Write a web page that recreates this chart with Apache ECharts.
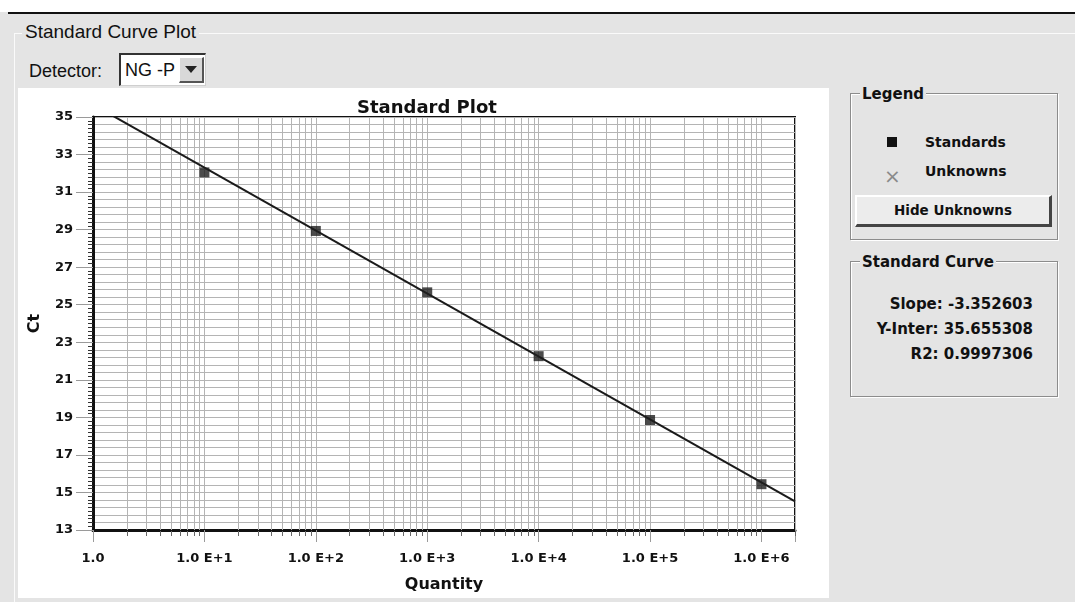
<!DOCTYPE html>
<html>
<head>
<meta charset="utf-8">
<script src="https://cdn.jsdelivr.net/npm/echarts@6/dist/echarts.min.js"></script>
<style>
  html, body { margin:0; padding:0; width:1075px; height:602px; overflow:hidden; background:#e4e4e4; }
  .abs { position:absolute; }
  .ui { font-family:"Liberation Sans", Arial, sans-serif; color:#111; }
  .b { font-family:"DejaVu Sans", Verdana, sans-serif; font-weight:bold; color:#111; }
  .frame { border:1px solid #8c8c8c; box-shadow: 1px 1px 0 #fff, inset 1px 1px 0 #fff; }
  #chart { position:absolute; left:0; top:0; width:1075px; height:602px; }
</style>
</head>
<body>
<div class="abs" style="left:0;top:0;width:1075px;height:12px;background:#fff"></div>
<div class="abs" style="left:8px;top:12px;width:1067px;height:2px;background:#111"></div>
<div class="abs" style="left:14px;top:33px;width:1061px;height:569px;border-left:1px solid #fafafa;border-top:1px solid #fafafa"></div>
<div class="abs ui" style="left:22px;top:21px;font-size:19px;background:#e4e4e4;padding:0 3px;line-height:22px">Standard Curve Plot</div>
<div class="abs ui" style="left:29px;top:60px;font-size:18px;line-height:22px">Detector:</div>
<div class="abs" style="left:119px;top:53px;width:84px;height:30px;background:#fff;border-top:2px solid #333;border-left:2px solid #333;border-right:1px solid #cfcfcf;border-bottom:1px solid #cfcfcf">
  <div class="abs ui" style="left:4px;top:4px;font-size:18px;line-height:22px">NG -P</div>
  <div class="abs" style="left:58px;top:2px;width:22px;height:23px;background:#d8d8d8;border-top:1px solid #fff;border-left:1px solid #fff;border-right:2px solid #555;border-bottom:2px solid #555">
    <div class="abs" style="left:5px;top:8px;width:0;height:0;border-left:6px solid transparent;border-right:6px solid transparent;border-top:7px solid #222"></div>
  </div>
</div>
<div class="abs" style="left:18px;top:88px;width:811px;height:510px;background:#fff"></div>

<div class="abs frame" style="left:850px;top:93px;width:206px;height:145px"></div>
<div class="abs b" style="left:860px;top:85px;font-size:15px;line-height:18px;background:#e4e4e4;padding:0 2px">Legend</div>
<div class="abs" style="left:887px;top:137px;width:10px;height:10px;background:#111"></div>
<div class="abs b" style="left:925px;top:133px;font-size:14px;line-height:18px">Standards</div>
<div class="abs" style="left:884px;top:165px;font-family:'DejaVu Sans',sans-serif;font-size:20px;line-height:22px;color:#8a8a8a">×</div>
<div class="abs b" style="left:925px;top:162px;font-size:14px;line-height:18px">Unknowns</div>
<div class="abs b" style="left:855px;top:195px;width:192px;height:27px;background:#ececec;border-top:2px solid #fff;border-left:2px solid #fff;border-bottom:3px solid #444;border-right:3px solid #444;font-size:13.5px;line-height:27px;text-align:center">Hide Unknowns</div>

<div class="abs frame" style="left:850px;top:261px;width:206px;height:134px"></div>
<div class="abs b" style="left:860px;top:253px;font-size:15px;line-height:18px;background:#e4e4e4;padding:0 2px">Standard Curve</div>
<div class="abs b" style="left:850px;top:292px;width:183px;text-align:right;font-size:15px;line-height:25px">
  <div id="slopeTxt"></div><div id="interTxt"></div><div id="r2Txt"></div>
</div>

<div id="chart"></div>
<script>
// ---- data ----
const standardsQty = [10, 100, 1000, 10000, 100000, 1000000];
const standardsCt  = [32.05, 28.93, 25.66, 22.26, 18.86, 15.44];
const unknownsQty  = [];
const unknownsCt   = [];
const fitLineQty   = [1, 2000000];
const fitLineCt    = [35.66, 14.53];
const xTickLabels  = ['1.0', '1.0 E+1', '1.0 E+2', '1.0 E+3', '1.0 E+4', '1.0 E+5', '1.0 E+6'];
const yTickValues  = [13, 15, 17, 19, 21, 23, 25, 27, 29, 31, 33, 35];
const curveStats   = { slope: '-3.352603', inter: '35.655308', r2: '0.9997306' };

document.getElementById('slopeTxt').textContent = 'Slope: ' + curveStats.slope;
document.getElementById('interTxt').textContent = 'Y-Inter: ' + curveStats.inter;
document.getElementById('r2Txt').textContent = 'R2: ' + curveStats.r2;

const xMin = 1, xMax = 2000000;
const yMin = yTickValues[0], yMax = yTickValues[yTickValues.length - 1];

// minor log gridline positions (2..9 x 10^k) inside the axis range
const minorGrid = [];
for (let k = 0; k <= 6; k++) {
  for (let m = 2; m <= 9; m++) {
    const v = m * Math.pow(10, k);
    if (v <= xMax) minorGrid.push([v, yMin]);
  }
}

const FONT = '"DejaVu Sans", Verdana, sans-serif';
const chart = echarts.init(document.getElementById('chart'), null, { renderer: 'canvas' });
chart.setOption({
  backgroundColor: 'transparent',
  animation: false,
  title: {
    text: 'Standard Plot', left: 352, top: 94,
    textStyle: { fontFamily: FONT, fontWeight: 'bold', fontSize: 18, color: '#111' }
  },
  grid: {
    left: 93, right: 280, top: 117, bottom: 72,
    show: true, borderColor: '#111', borderWidth: 2, backgroundColor: 'transparent',
    containLabel: false
  },
  xAxis: {
    type: 'log', logBase: 10, min: xMin, max: xMax,
    name: 'Quantity', nameLocation: 'middle', nameGap: 47,
    nameTextStyle: { fontFamily: FONT, fontWeight: 'bold', fontSize: 16, color: '#111' },
    axisLine: { show: true, lineStyle: { color: '#111', width: 3 } },
    axisTick: { show: true, length: 12, lineStyle: { color: '#9a9a9a', width: 1 } },
    axisLabel: {
      margin: 22, fontFamily: FONT, fontWeight: 'bold', fontSize: 13, color: '#111',
      formatter: function (v) {
        const e = Math.log10(v);
        if (Math.abs(e - Math.round(e)) < 1e-6 && xTickLabels[Math.round(e)] !== undefined) return xTickLabels[Math.round(e)];
        return '';
      }
    },
    splitLine: { show: true, lineStyle: { color: '#b4b4b4', width: 1 } },
    minorTick: { show: false }, minorSplitLine: { show: false }
  },
  yAxis: [{
    type: 'value', min: yMin, max: yMax, interval: 2, position: 'left',
    name: 'Ct', nameLocation: 'middle', nameGap: 50,
    nameTextStyle: { fontFamily: FONT, fontWeight: 'bold', fontSize: 16, color: '#111' },
    axisLine: { show: true, lineStyle: { color: '#111', width: 3 } },
    axisTick: { show: true, length: 17, lineStyle: { color: '#9a9a9a', width: 1 } },
    minorTick: { show: true, splitNumber: 10, length: 5, lineStyle: { color: '#333', width: 1 } },
    axisLabel: { margin: 20, fontFamily: FONT, fontWeight: 'bold', fontSize: 13, color: '#111' },
    splitLine: { show: true, lineStyle: { color: '#b4b4b4', width: 1 } },
    minorSplitLine: { show: false }
  }, {
    type: 'value', min: yMin, max: yMax, interval: 2, position: 'left',
    axisLine: { show: false }, axisTick: { show: false }, axisLabel: { show: false },
    splitLine: { show: false },
    minorTick: { show: false, splitNumber: 5 },
    minorSplitLine: { show: true, lineStyle: { color: '#b4b4b4', width: 1 } }
  }],
  series: [
    {
      type: 'custom', name: 'minorGrid', silent: true, clip: false, z: 1,
      coordinateSystem: 'cartesian2d', xAxisIndex: 0, yAxisIndex: 0,
      data: minorGrid,
      renderItem: function (params, api) {
        const v = api.value(0);
        const top = api.coord([v, yMax]);
        const bot = api.coord([v, yMin]);
        const x = Math.round(top[0]) + 0.5;
        return {
          type: 'group',
          children: [
            { type: 'line', shape: { x1: x, y1: top[1], x2: x, y2: bot[1] }, style: { stroke: '#b4b4b4', lineWidth: 1 } },
            { type: 'line', shape: { x1: x, y1: bot[1] + 1, x2: x, y2: bot[1] + 6 }, style: { stroke: '#666', lineWidth: 1 } }
          ]
        };
      }
    },
    {
      type: 'line', name: 'Fit', z: 3,
      data: fitLineQty.map((q, i) => [q, fitLineCt[i]]),
      symbol: 'none', clip: true,
      lineStyle: { color: '#1a1a1a', width: 2 }
    },
    {
      type: 'scatter', name: 'Standards', z: 4,
      data: standardsQty.map((q, i) => [q, standardsCt[i]]),
      symbol: 'rect', symbolSize: 10,
      itemStyle: { color: '#1e1e1e' }
    },
    {
      type: 'scatter', name: 'Unknowns', z: 4,
      data: unknownsQty.map((q, i) => [q, unknownsCt[i]]),
      symbol: 'path://M0,0L10,10M10,0L0,10', symbolSize: 10,
      itemStyle: { color: '#888' }
    }
  ]
});
</script>
</body>
</html>
